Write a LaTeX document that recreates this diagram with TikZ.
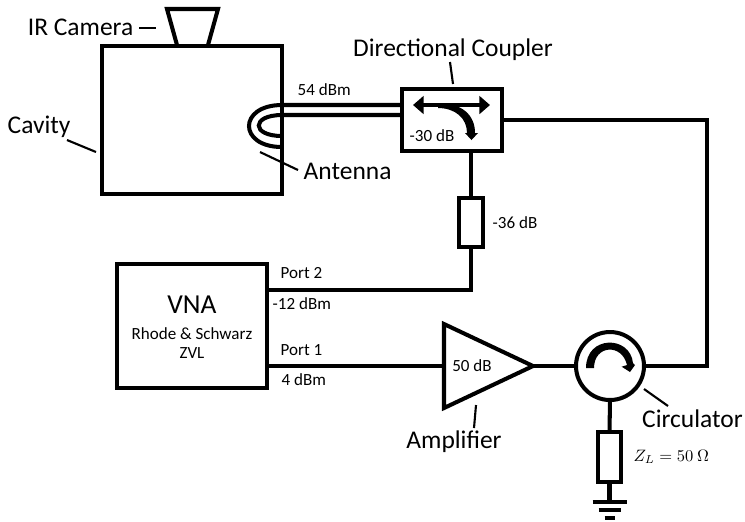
\documentclass[tikz,border=0pt]{standalone}
\usepackage{fontspec}
\setmainfont{Carlito}
\usepackage{amsmath}
\usetikzlibrary{arrows.meta,calc}
\tikzset{
  wire/.style={line width=1.15pt},
  leader/.style={line width=0.6pt},
  box/.style={draw,line width=1.15pt,outer sep=0pt,inner sep=0pt},
  bigtext/.style={font=\fontsize{7.25}{8.7}\selectfont,inner sep=0pt},
  smalltext/.style={font=\fontsize{4.85}{5.8}\selectfont,inner sep=0pt},
}
\begin{document}
\begin{tikzpicture}
  \useasboundingbox (0,0) rectangle (7.45,-5.21);
  % cavity and camera
  \node[box,minimum width=1.80cm,minimum height=1.48cm] (cavity) at (1.92,-1.20) {};
  \draw[wire] (1.77,-0.45) -- (1.67,-0.09) -- (2.18,-0.09) -- (2.08,-0.45);
  \node[bigtext,anchor=east] (camlabel) at (1.34,-0.27) {IR Camera};
  \node[bigtext,anchor=west] (cavlabel) at (0.07,-1.27) {Cavity};
  \node[bigtext,anchor=west] (antlabel) at (3.03,-1.71) {Antenna};
  % coupler
  \node[box,minimum width=1.00cm,minimum height=0.62cm] (coupler) at (4.52,-1.20) {};
  \node[bigtext] (couplabel) at (4.53,-0.50) {Directional Coupler};
  \node[smalltext] (couppower) at (4.32,-1.36) {-30 dB};
  \node[smalltext,anchor=west] (antpower) at (2.97,-0.90) {54 dBm};
  \draw[line width=1.2pt,{Triangle[length=3pt,width=5pt]}-{Triangle[length=3pt,width=5pt]}] (4.13,-1.05) -- (4.90,-1.05);
  \fill (4.38,-1.03) .. controls (4.62,-1.03) and (4.75,-1.15) .. (4.75,-1.33) -- (4.78,-1.33) -- (4.715,-1.40)
    -- (4.65,-1.33) -- (4.67,-1.33) .. controls (4.67,-1.18) and (4.55,-1.08) .. (4.38,-1.08) -- cycle;
  % antenna loop
  \coordinate (loopa) at (2.82,-1.05);
  \coordinate (loopb) at (2.82,-1.15);
  \draw[wire] (coupler.west |- loopa) -- (loopa) .. controls (2.38,-1.05) and (2.38,-1.47) .. (2.82,-1.47);
  \draw[wire] (coupler.west |- loopb) -- (loopb) .. controls (2.51,-1.15) and (2.51,-1.36) .. (2.82,-1.36);
  % vna
  \node[box,minimum width=1.50cm,minimum height=1.24cm] (vna) at (1.92,-3.26) {};
  \node[font=\fontsize{7.8}{9}\selectfont,inner sep=0pt] (vnaname) at (1.92,-3.05) {VNA};
  \node[smalltext] (vnamake) at (1.92,-3.34) {Rhode \& Schwarz};
  \node[smalltext] (vnatype) at (1.92,-3.53) {ZVL};
  \coordinate (porttwo) at (2.67,-2.90);
  \coordinate (portone) at (2.67,-3.66);
  \node[smalltext,anchor=west] (porttwolabel) at (2.80,-2.73) {Port 2};
  \node[smalltext,anchor=west] (twopower) at (2.72,-3.04) {-12 dBm};
  \node[smalltext,anchor=west] (portonelabel) at (2.80,-3.50) {Port 1};
  \node[smalltext,anchor=west] (onepower) at (2.81,-3.80) {4 dBm};
  % attenuator
  \node[box,minimum width=0.24cm,minimum height=0.49cm] (atten) at (4.71,-2.225) {};
  \node[smalltext,anchor=west] (attenlabel) at (4.92,-2.23) {-36 dB};
  \draw[wire] (atten.north) -- (atten.north |- coupler.south);
  \draw[wire] (atten.south) |- (porttwo);
  % amplifier
  \coordinate (ampin) at (4.44,-3.66);
  \coordinate (ampout) at (5.33,-3.66);
  \draw[wire,line join=miter] (4.44,-3.24) -- (ampout) -- (4.44,-4.08) -- cycle;
  \node[smalltext] (amppower) at (4.72,-3.66) {50 dB};
  \node[bigtext] (amplabel) at (4.54,-4.42) {Amplifier};
  \draw[wire] (portone) -- (ampin);
  % circulator
  \node[box,circle,minimum size=0.68cm] (circ) at (6.10,-3.66) {};
  \node[bigtext] (circlabel) at (6.925,-4.19) {Circulator};
  \fill (5.86,-3.68) .. controls (5.86,-3.35) and (6.30,-3.35) .. (6.33,-3.63) -- (6.35,-3.65) -- (6.30,-3.72)
    -- (6.217,-3.667) -- (6.27,-3.65) .. controls (6.22,-3.43) and (5.94,-3.45) .. (5.94,-3.68) -- cycle;
  \draw[wire] (ampout) -- (circ.west);
  \coordinate (corner) at (7.07,-1.20);
  \draw[wire] (coupler.east) -- (corner) |- (circ.east);
  % load and ground
  \node[box,minimum width=0.23cm,minimum height=0.50cm] (load) at (6.095,-4.57) {};
  \node[anchor=west,inner sep=0pt] (loadlabel) at (6.33,-4.57) {\scalebox{0.47}{$Z_L=50\ \Omega$}};
  \coordinate (gnd) at (6.095,-5.02);
  \draw[wire] (circ.south) -- (load.north);
  \draw[wire] (load.south) -- (gnd);
  \draw[line width=1.1pt] ($(gnd)+(-0.17,0)$) -- ($(gnd)+(0.17,0)$);
  \draw[line width=1.1pt] ($(gnd)+(-0.11,-0.08)$) -- ($(gnd)+(0.11,-0.08)$);
  \draw[line width=1.1pt] ($(gnd)+(-0.05,-0.16)$) -- ($(gnd)+(0.05,-0.16)$);
  % leaders
  \draw[leader] (1.39,-0.28) -- (1.56,-0.28);
  \draw[leader] (0.67,-1.40) -- (0.96,-1.52);
  \draw[leader] (2.60,-1.52) -- (2.98,-1.70);
  \draw[leader] (4.50,-0.62) -- (4.53,-0.84);
  \draw[leader] (4.76,-4.05) -- (4.74,-4.28);
  \draw[leader] (6.44,-3.89) -- (6.68,-4.06);
\end{tikzpicture}
\end{document}
